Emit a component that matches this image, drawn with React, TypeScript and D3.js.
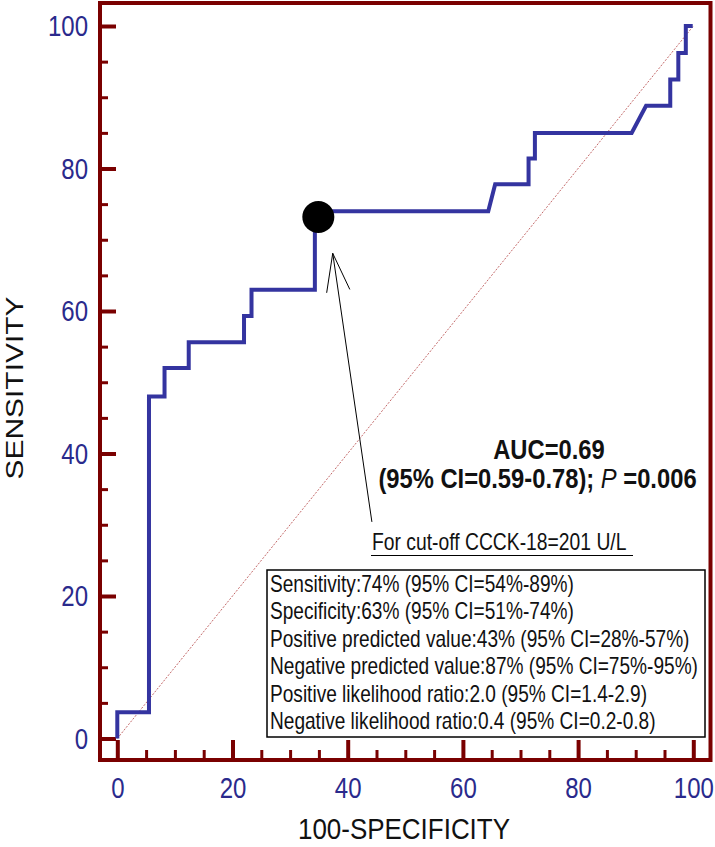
import React, { useEffect, useRef } from "react";
import * as d3 from "d3";

// ROC curve vertices (100-specificity, sensitivity)
const rocFpr = [0, 0, 5.5, 5.5, 8.2, 8.2, 12.4, 12.4, 22, 22, 23.3, 23.3, 34.3, 34.3, 64.4, 65.6, 71.4, 71.4, 72.5, 72.5, 89.3, 91.8, 96, 96, 97.4, 97.4, 98.7, 98.7, 99.9];
const rocTpr = [0, 3.7, 3.7, 48, 48, 52, 52, 55.6, 55.6, 59.3, 59.3, 63, 63, 74, 74, 77.8, 77.8, 81.4, 81.4, 85, 85, 88.8, 88.8, 92.5, 92.5, 96.2, 96.2, 100, 100];

const cutoffPoint = [34.9, 73.2];
// arrow from label up to the cut-off point (data units)
const arrowTip = [37.4, 68.1];
const arrowTail = [44.2, 30.4];

const xTicks = [0, 20, 40, 60, 80, 100];
const yTicks = [0, 20, 40, 60, 80, 100];
const minorTicks = [5, 10, 15, 25, 30, 35, 45, 50, 55, 65, 70, 75, 85, 90, 95];

const aucLine1 = "AUC=0.69";
const aucLine2 = ["(95% CI=0.59-0.78); ", "P", " =0.006"];
const cutoffLabel = "For cut-off CCCK-18=201 U/L";
const statLines = [
  "Sensitivity:74% (95% CI=54%-89%)",
  "Specificity:63% (95% CI=51%-74%)",
  "Positive predicted value:43% (95% CI=28%-57%)",
  "Negative predicted value:87% (95% CI=75%-95%)",
  "Positive likelihood ratio:2.0 (95% CI=1.4-2.9)",
  "Negative likelihood ratio:0.4 (95% CI=0.2-0.8)",
];

const FONT = "'Liberation Sans', Arial, sans-serif";
const AXIS_RED = "#7a0000";
const TICK_BLUE = "#2a2a8c";

function RocChart() {
  const svgRef = useRef<SVGSVGElement>(null);
  const width = 715;
  const height = 847;

  useEffect(() => {
    const svg = d3.select(svgRef.current);
    svg.selectAll("*").remove();

    const frame = { left: 100, top: 3, right: 710.5, bottom: 760 };

    const x = d3.scaleLinear().domain([0, 100]).range([117.3, 693.3]);
    const y = d3.scaleLinear().domain([0, 100]).range([738.5, 26]);

    svg.attr("font-family", FONT);

    // frame box
    svg
      .append("rect")
      .attr("x", frame.left)
      .attr("y", frame.top)
      .attr("width", frame.right - frame.left)
      .attr("height", frame.bottom - frame.top)
      .attr("fill", "none")
      .attr("stroke", AXIS_RED)
      .attr("stroke-width", 4);

    // minor ticks
    svg
      .append("g")
      .attr("transform", `translate(${frame.left},0)`)
      .call(d3.axisLeft(y).tickValues(minorTicks).tickSize(-8).tickFormat(() => ""))
      .call((g) => g.select(".domain").remove())
      .selectAll("line")
      .attr("stroke", AXIS_RED)
      .attr("stroke-width", 3);

    svg
      .append("g")
      .attr("transform", `translate(0,${frame.bottom})`)
      .call(d3.axisBottom(x).tickValues(minorTicks).tickSize(-10).tickFormat(() => ""))
      .call((g) => g.select(".domain").remove())
      .selectAll("line")
      .attr("stroke", AXIS_RED)
      .attr("stroke-width", 3);

    // major Y axis
    const yAxis = svg
      .append("g")
      .attr("transform", `translate(${frame.left},0)`)
      .call(d3.axisLeft(y).tickValues(yTicks).tickSize(-16).tickPadding(15));
    yAxis.select(".domain").remove();
    yAxis.selectAll("line").attr("stroke", AXIS_RED).attr("stroke-width", 4);
    yAxis
      .selectAll("text")
      .attr("font-size", 30)
      .attr("font-family", FONT)
      .attr("fill", TICK_BLUE)
      .attr("transform", "scale(0.8,1)");

    // major X axis
    const xAxis = svg
      .append("g")
      .attr("transform", `translate(0,${frame.bottom})`)
      .call(d3.axisBottom(x).tickValues(xTicks).tickSize(-20).tickPadding(17));
    xAxis.select(".domain").remove();
    xAxis.selectAll("line").attr("stroke", AXIS_RED).attr("stroke-width", 4);
    xAxis
      .selectAll("text")
      .attr("font-size", 30)
      .attr("font-family", FONT)
      .attr("fill", TICK_BLUE)
      .attr("transform", "scale(0.8,1)");

    // axis titles
    svg
      .append("text")
      .attr("transform", "translate(23,388) rotate(-90)")
      .attr("text-anchor", "middle")
      .attr("font-size", 24)
      .attr("textLength", 183)
      .attr("lengthAdjust", "spacingAndGlyphs")
      .attr("fill", "#111")
      .text("SENSITIVITY");

    svg
      .append("text")
      .attr("x", 404)
      .attr("y", 839)
      .attr("text-anchor", "middle")
      .attr("font-size", 30)
      .attr("textLength", 212)
      .attr("lengthAdjust", "spacingAndGlyphs")
      .attr("fill", "#111")
      .text("100-SPECIFICITY");

    // reference diagonal
    svg
      .append("line")
      .attr("x1", x(0))
      .attr("y1", y(0))
      .attr("x2", x(100))
      .attr("y2", y(100))
      .attr("stroke", "#c46a6a")
      .attr("stroke-width", 1)
      .attr("stroke-dasharray", "2,1.5");

    // ROC curve
    const line = d3
      .line<number>()
      .x((d, i) => x(rocFpr[i]))
      .y((d, i) => y(rocTpr[i]));
    svg
      .append("path")
      .attr("d", line(rocTpr))
      .attr("fill", "none")
      .attr("stroke", "#3434a0")
      .attr("stroke-width", 4)
      .attr("stroke-linejoin", "miter");

    // cut-off point
    svg
      .append("circle")
      .attr("cx", x(cutoffPoint[0]))
      .attr("cy", y(cutoffPoint[1]))
      .attr("r", 16)
      .attr("fill", "#000");

    // arrow
    const tx = x(arrowTip[0]);
    const ty = y(arrowTip[1]);
    const sx = x(arrowTail[0]);
    const sy = y(arrowTail[1]);
    const ang = Math.atan2(sy - ty, sx - tx);
    const arm = 40;
    const spread = (17 * Math.PI) / 180;
    const arrow = svg.append("g").attr("stroke", "#000").attr("stroke-width", 1);
    arrow.append("line").attr("x1", tx).attr("y1", ty).attr("x2", sx).attr("y2", sy);
    [-1, 1].forEach((s) => {
      arrow
        .append("line")
        .attr("x1", tx)
        .attr("y1", ty)
        .attr("x2", tx + arm * Math.cos(ang + s * spread))
        .attr("y2", ty + arm * Math.sin(ang + s * spread));
    });

    // AUC annotation
    svg
      .append("text")
      .attr("transform", "translate(549,459) scale(0.88,1)")
      .attr("text-anchor", "middle")
      .attr("font-size", 27)
      .attr("font-weight", "bold")
      .attr("fill", "#111")
      .text(aucLine1);

    const auc2 = svg
      .append("text")
      .attr("transform", "translate(537.5,488) scale(0.88,1)")
      .attr("text-anchor", "middle")
      .attr("font-size", 27)
      .attr("font-weight", "bold")
      .attr("fill", "#111");
    auc2.append("tspan").text(aucLine2[0]);
    auc2.append("tspan").attr("font-style", "italic").attr("font-weight", "normal").text(aucLine2[1]);
    auc2.append("tspan").text(aucLine2[2]);

    // cut-off label with underline
    svg
      .append("text")
      .attr("transform", "translate(372,550) scale(0.84,1)")
      .attr("font-size", 23)
      .attr("fill", "#111")
      .text(cutoffLabel);
    svg
      .append("line")
      .attr("x1", 371)
      .attr("x2", 633)
      .attr("y1", 555.5)
      .attr("y2", 555.5)
      .attr("stroke", "#000")
      .attr("stroke-width", 1);

    // stats box
    svg
      .append("rect")
      .attr("x", 267)
      .attr("y", 570)
      .attr("width", 438)
      .attr("height", 167)
      .attr("fill", "#fff")
      .attr("stroke", "#000")
      .attr("stroke-width", 1.5);

    svg
      .append("g")
      .selectAll("text")
      .data(statLines)
      .join("text")
      .attr("transform", (d, i) => `translate(270,${591.5 + i * 27.5}) scale(0.83,1)`)
      .attr("font-size", 23)
      .attr("fill", "#111")
      .text((d) => d);
  }, []);

  return (
    <svg
      ref={svgRef}
      width={width}
      height={height}
      style={{ position: "absolute", left: 0, top: 0, background: "#fff" }}
    ></svg>
  );
}

export default function App() {
  return <RocChart />;
}
